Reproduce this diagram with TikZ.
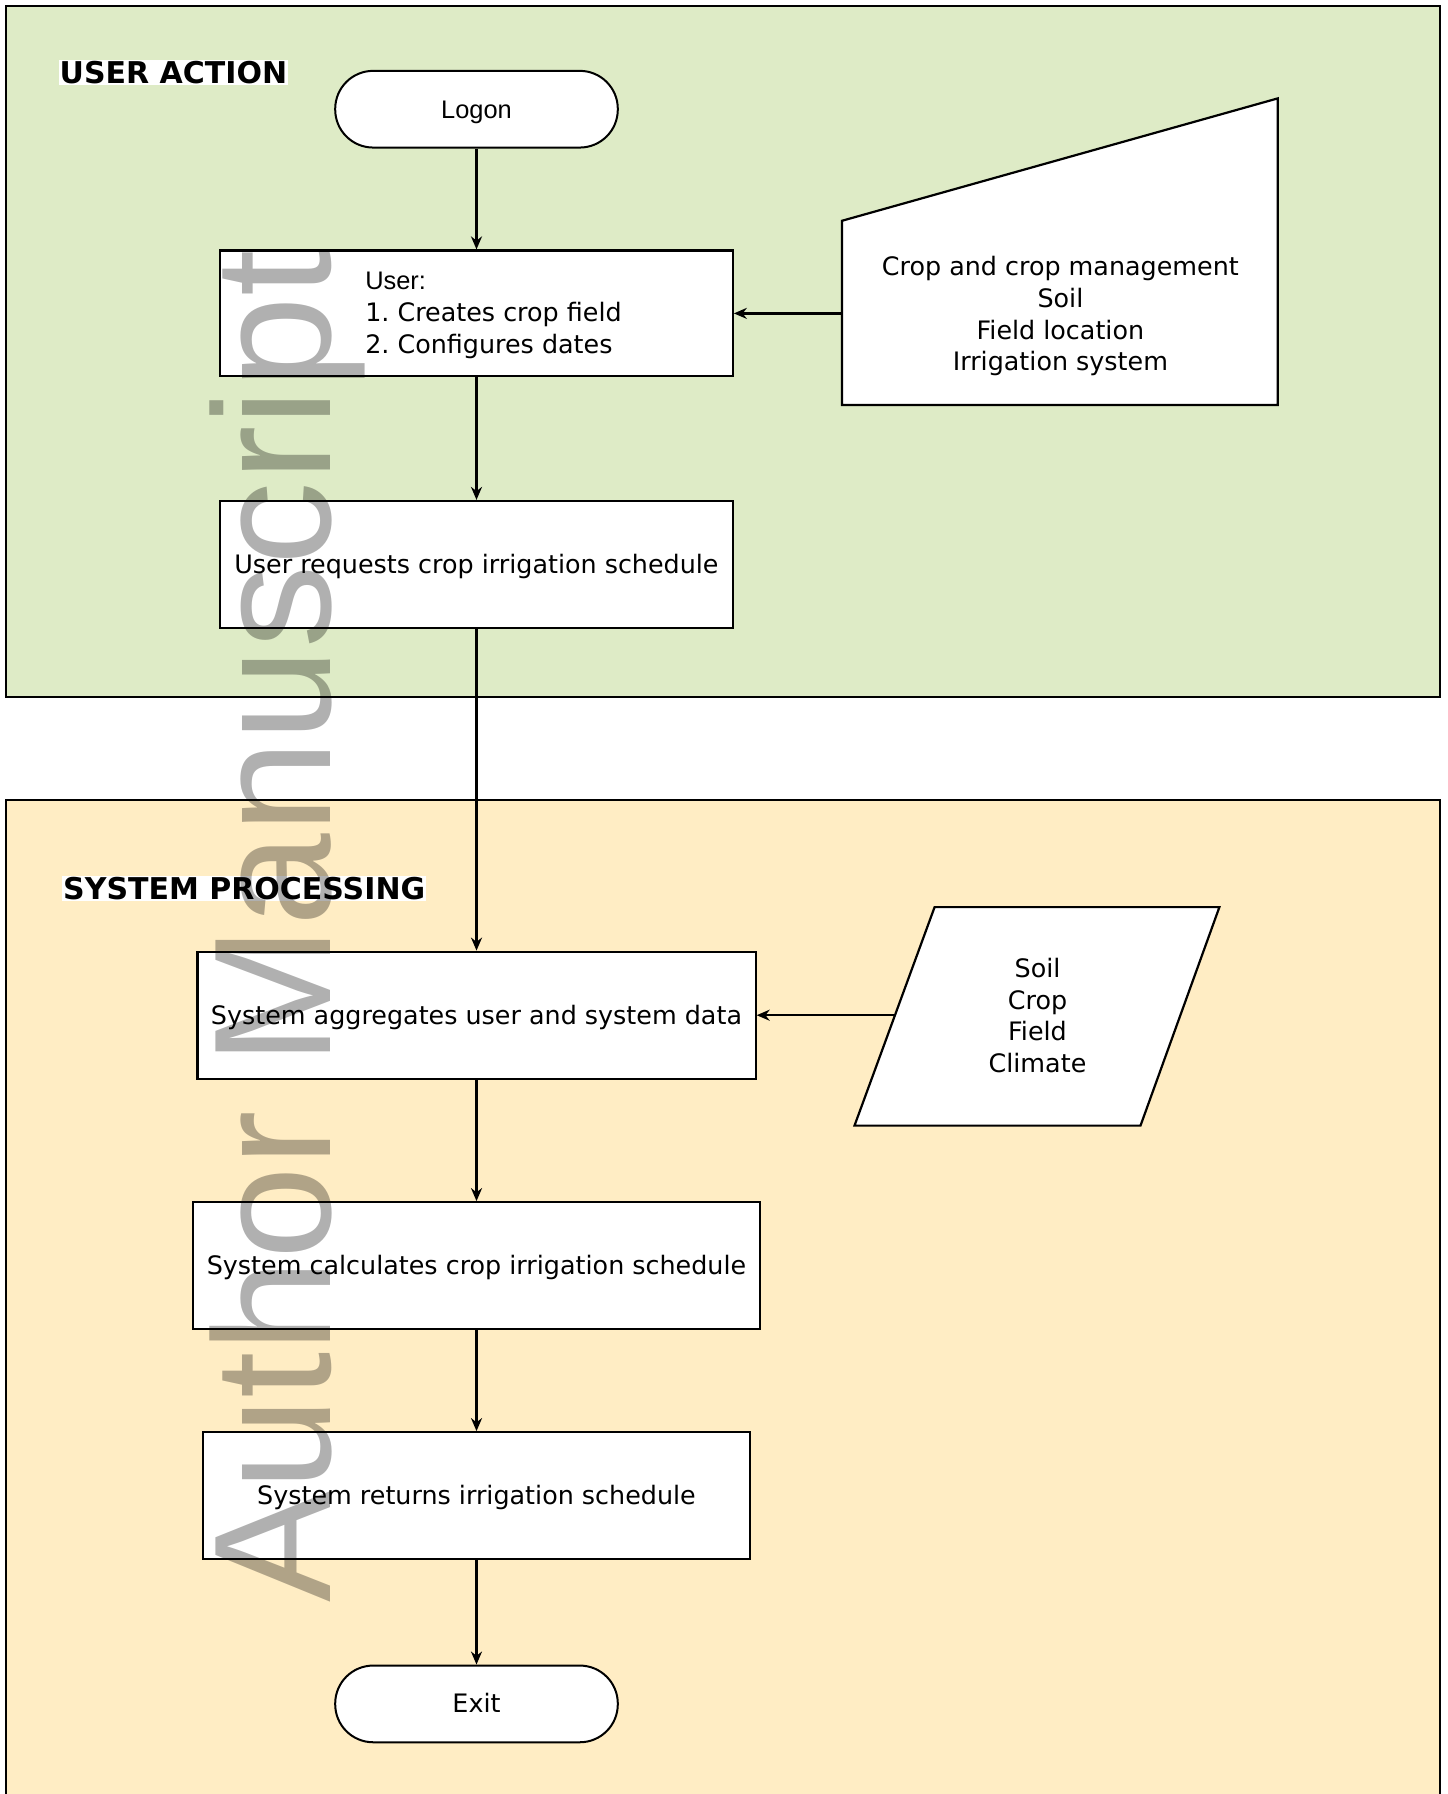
\documentclass[tikz,border=0pt]{standalone}
\usepackage{fontspec}
\setmainfont{DejaVu Sans}
\newfontfamily\logonfont{Liberation Sans}
\newfontfamily\wmfont{Liberation Sans}
\usetikzlibrary{arrows.meta}
\definecolor{panelgreen}{RGB}{222,235,198}
\definecolor{panelorange}{RGB}{255,237,196}
\frenchspacing
\begin{document}
\begin{tikzpicture}[x=0.5pt,y=-0.5pt,
  panel/.style={draw=black, line width=1pt},
  procbox/.style={draw=black, fill=white, line width=1.1pt, inner sep=0pt,
    minimum height=63.5pt, text depth=0.06em, font=\fontsize{12.7pt}{16pt}\selectfont, align=center},
  term/.style={draw=black, fill=white, line width=1pt, rounded corners=19pt,
    minimum width=141.3pt, minimum height=38.35pt, inner sep=0pt, text depth=1pt,
    font=\fontsize{12.7pt}{16pt}\selectfont},
  datashape/.style={draw=black, fill=white, line width=1.1pt},
  datatext/.style={inner sep=0pt, align=center, font=\fontsize{12.7pt}{15.85pt}\selectfont},
  arr/.style={-{Stealth[length=6.5pt,width=5.5pt]}, line width=1.15pt},
  header/.style={fill=white, inner sep=0.5pt, anchor=west,
    font=\fontsize{15pt}{18pt}\selectfont\bfseries},
  watermark/.style={rotate=90, anchor=base west, inner sep=0pt, text=black,
    text opacity=0.31, font=\wmfont\fontsize{83.3pt}{84pt}\selectfont}
]
\useasboundingbox (0,0) rectangle (1447,1794);

% panels
\draw[panel, fill=panelgreen] (5.7,5.7) rectangle (1440.2,696.6);
\draw[panel, fill=panelorange] (5.7,799.6) rectangle (1440.2,1820);

% headers
\node[header] (hua) at (58.3,72.6) {USER ACTION};
\node[header] (hsp) at (61.8,888.2) {SYSTEM PROCESSING};

% user action nodes
\node[term] (logon) at (476.5,109.2) {\logonfont\raisebox{-1.2pt}{Logon}};
\node[procbox, minimum width=256.25pt, minimum height=62.9pt] (user) at (476.5,313.4) {};
\node[anchor=west, align=left, inner sep=0pt, font=\fontsize{12.7pt}{16pt}\selectfont]
  (usertext) at (364.9,315.7) {{\logonfont User:}\\1. Creates crop field\\2. Configures dates};
\node[procbox, minimum width=256.25pt] (request) at (476.5,564.5) {User requests crop irrigation schedule};

% manual input
\draw[datashape] (841.9,220.8) -- (1277.7,98.4) -- (1277.7,404.9) -- (841.9,404.9) -- cycle;
\node[datatext] (manualtext) at (1060.4,316.3) {Crop and crop management\\Soil\\Field location\\Irrigation system};
\coordinate (manualin) at (841.9,313.4);

% system processing nodes
\node[procbox, minimum width=279.1pt] (aggregate) at (476.5,1015.2) {System aggregates user and system data};
\node[procbox, minimum width=283.7pt] (calc) at (476.5,1265.7) {System calculates crop irrigation schedule};
\node[procbox, minimum width=273.4pt] (returns) at (476.5,1495.7) {System returns irrigation schedule};
\node[term] (exit) at (476.5,1703.9) {Exit};

% data parallelogram
\draw[datashape] (934.6,907.1) -- (1219.4,907.1) -- (1140.5,1125.6) -- (854.5,1125.6) -- cycle;
\node[datatext] (datatext) at (1037.5,1015.5) {Soil\\Crop\\Field\\Climate};
\coordinate (datain) at (894.7,1015.2);

% connectors
\draw[arr] (logon.south) -- (user.north);
\draw[arr] (user.south) -- (request.north);
\draw[arr] (manualin) -- (user.east);
\draw[arr] (request.south) -- (aggregate.north);
\draw[arr] (datain) -- (aggregate.east);
\draw[arr] (aggregate.south) -- (calc.north);
\draw[arr] (calc.south) -- (returns.north);
\draw[arr] (returns.south) -- (exit.north);

% watermark
\node[watermark] (wm) at (330,1602.5) {Author Manuscript};
\end{tikzpicture}
\end{document}
